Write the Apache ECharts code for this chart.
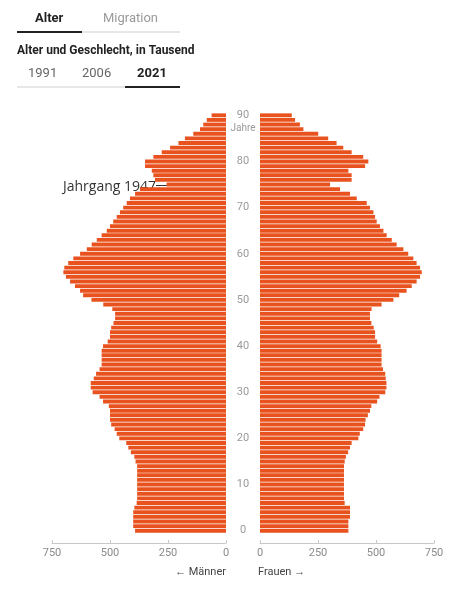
<!DOCTYPE html>
<html>
<head>
<meta charset="utf-8">
<script src="https://cdn.jsdelivr.net/npm/echarts@6/dist/echarts.min.js"></script>
<style>
  html, body { margin: 0; padding: 0; background: #fff; }
  #chart { width: 457px; height: 590px; }
</style>
</head>
<body>
<div id="chart"></div>
<script>
// Alter 0..90, Werte in Tausend (2021)
var ages = [];
for (var i = 0; i <= 90; i++) ages.push(String(i));

var maenner = [
  392, 400, 400, 400, 400, 395, 385, 383, 383, 383,
  383, 383, 383, 383, 383, 390, 395, 410, 421, 430,
  460, 471, 480, 495, 500, 500, 500, 505, 530, 545,
  575, 583, 583, 570, 560, 545, 536, 536, 536, 536,
  530, 510, 500, 500, 495, 485, 478, 478, 490, 529,
  580, 616, 629, 651, 672, 690, 701, 697, 680, 658,
  629, 600, 579, 557, 536, 514, 500, 486, 471, 457,
  443, 428, 414, 392, 371, 256, 306, 313, 320, 349,
  349, 313, 277, 241, 205, 177, 141, 112, 98, 83,
  62
];
var frauen = [
  381, 381, 381, 388, 388, 388, 365, 362, 362, 362,
  362, 362, 362, 362, 362, 365, 370, 380, 388, 395,
  424, 430, 445, 453, 455, 465, 474, 480, 505, 515,
  540, 545, 545, 542, 540, 530, 524, 524, 524, 524,
  520, 505, 496, 496, 490, 480, 474, 474, 481, 524,
  575, 600, 632, 654, 675, 690, 697, 690, 675, 661,
  639, 618, 589, 568, 546, 532, 517, 503, 496, 489,
  474, 460, 417, 388, 345, 302, 395, 395, 381, 453,
  467, 445, 395, 359, 330, 294, 251, 187, 172, 151,
  137
];
var xTicks = [0, 250, 500, 750];

var barColor = '#E8521E';
var font = 'Roboto, "Noto Sans", sans-serif';

var chart = echarts.init(document.getElementById('chart'));

function valueAxis(idx, inverse) {
  return {
    type: 'value',
    gridIndex: idx,
    inverse: inverse,
    min: xTicks[0],
    max: xTicks[xTicks.length - 1],
    interval: 250,
    offset: 10,
    axisLine: { show: true, lineStyle: { color: '#c8c8c8' } },
    axisTick: { show: true, inside: true, length: 3, lineStyle: { color: '#c8c8c8' } },
    axisLabel: { color: '#8a8a8a', fontSize: 11, fontFamily: font, margin: 5 },
    splitLine: { show: false }
  };
}

var option = {
  animation: false,
  grid: [
    { left: 52, width: 174, top: 113, height: 420 },
    { left: 260, width: 174, top: 113, height: 420 }
  ],
  xAxis: [valueAxis(0, true), valueAxis(1, false)],
  yAxis: [
    {
      type: 'category', gridIndex: 0, data: ages, position: 'right',
      axisLine: { show: false }, axisTick: { show: false },
      axisLabel: {
        interval: function (index) { return index % 10 === 0; },
        align: 'center', margin: 17,
        color: '#9a9a9a', fontSize: 11, fontFamily: font
      }
    },
    {
      type: 'category', gridIndex: 1, data: ages,
      axisLine: { show: false }, axisTick: { show: false }, axisLabel: { show: false }
    }
  ],
  series: [
    {
      name: 'Männer', type: 'bar', xAxisIndex: 0, yAxisIndex: 0,
      data: maenner, barCategoryGap: '16%',
      itemStyle: { color: barColor }
    },
    {
      name: 'Frauen', type: 'bar', xAxisIndex: 1, yAxisIndex: 1,
      data: frauen, barCategoryGap: '16%',
      itemStyle: { color: barColor }
    }
  ],
  graphic: [
    // Reiter oben
    { type: 'text', left: 35, top: 12, style: { text: 'Alter', font: 'bold 13px ' + font, fill: '#222' } },
    { type: 'text', left: 103, top: 12, style: { text: 'Migration', font: '13px ' + font, fill: '#9a9a9a' } },
    { type: 'line', shape: { x1: 17, y1: 32, x2: 180, y2: 32 }, style: { stroke: '#cfcfcf', lineWidth: 1 } },
    { type: 'line', shape: { x1: 17, y1: 32, x2: 82, y2: 32 }, style: { stroke: '#222', lineWidth: 2 } },
    { type: 'text', left: 17, top: 45, style: { text: 'Alter und Geschlecht, in Tausend', font: 'bold 12px ' + font, fill: '#222' } },
    { type: 'text', left: 28, top: 67, style: { text: '1991', font: '13px ' + font, fill: '#666' } },
    { type: 'text', left: 82, top: 67, style: { text: '2006', font: '13px ' + font, fill: '#666' } },
    { type: 'text', left: 137, top: 67, style: { text: '2021', font: 'bold 13px ' + font, fill: '#222' } },
    { type: 'line', shape: { x1: 17, y1: 87, x2: 180, y2: 87 }, style: { stroke: '#cfcfcf', lineWidth: 1 } },
    { type: 'line', shape: { x1: 125, y1: 87, x2: 180, y2: 87 }, style: { stroke: '#222', lineWidth: 2 } },
    // Einheit an der Altersachse
    { type: 'text', x: 243, y: 128, style: { text: 'Jahre', font: '10px ' + font, fill: '#9a9a9a', align: 'center', verticalAlign: 'middle' } },
    // Beschriftung unten
    { type: 'text', x: 226, y: 572, style: { text: '← Männer', font: '11px ' + font, fill: '#444', align: 'right', verticalAlign: 'middle' } },
    { type: 'text', x: 258, y: 572, style: { text: 'Frauen →', font: '11px ' + font, fill: '#444', align: 'left', verticalAlign: 'middle' } },
    // Annotation
    { type: 'text', x: 156, y: 187, style: { text: 'Jahrgang 1947', font: '14px "Open Sans", sans-serif', fill: '#333', align: 'right', verticalAlign: 'middle' } },
    { type: 'line', shape: { x1: 156, y1: 185.5, x2: 168, y2: 185.5 }, style: { stroke: '#333', lineWidth: 1 } }
  ]
};

chart.setOption(option);
window.addEventListener('resize', function () { chart.resize(); });
</script>
</body>
</html>
